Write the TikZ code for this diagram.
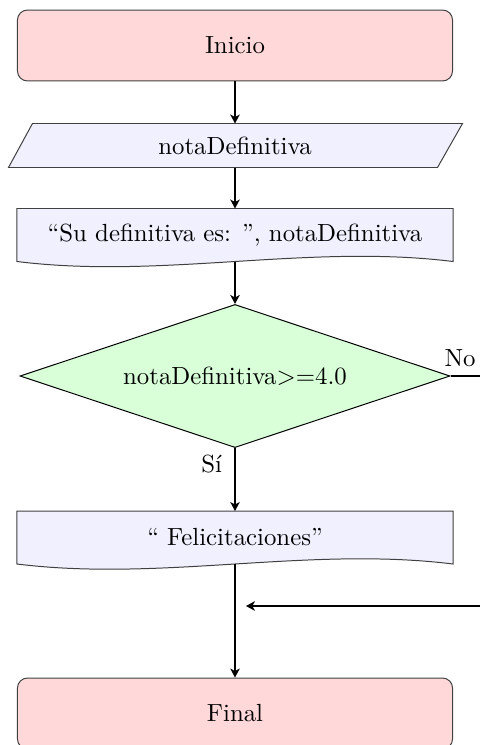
\documentclass[tikz,border=0pt]{standalone}
\usetikzlibrary{shapes.geometric,arrows.meta,calc,backgrounds}
\definecolor{startfill}{RGB}{255,217,217}
\definecolor{iofill}{RGB}{240,240,255}
\definecolor{decfill}{RGB}{217,255,217}
\begin{document}
\begin{tikzpicture}[x=0.4032pt,y=-0.4032pt,
  terminal/.style={rectangle, rounded corners=4pt, draw=black!75, fill=startfill, line width=0.4pt, minimum width=175.4pt, minimum height=28.6pt, inner sep=0pt},
  textbox/.style={rectangle, draw=none, inner sep=0pt},
  shapeline/.style={draw=black!75, fill=iofill, line width=0.4pt},
  decision/.style={diamond, aspect=3, draw=black, fill=decfill, line width=0.4pt, minimum width=173.4pt, minimum height=57.7pt, inner sep=0pt},
  flow/.style={line width=0.8pt, -{Stealth[length=3.6pt,width=3.8pt,inset=1pt]}},
]
\useasboundingbox (0,0) rectangle (480,745);
\clip (0,0) rectangle (480,745);

\node[terminal] (inicio) at (235,45.5) {Inicio};
\node[textbox, minimum width=162.9pt, minimum height=17.34pt] (para) at (235,145.5) {notaDefinitiva};
\node[textbox, minimum width=175.4pt, minimum height=20.97pt] (doc1) at (235,235) {“Su definitiva es: ”, notaDefinitiva};
\node[decision] (dec) at (235,376) {notaDefinitiva>=4.0};
\node[textbox, minimum width=175.4pt, minimum height=20.97pt] (doc2) at (235,537.5) {“ Felicitaciones”};
\node[terminal] (final) at (235,713.5) {Final};
\coordinate (join) at (235,606);

\begin{scope}[on background layer]
  \path[shapeline] (para.north west) -- ($(para.north east)+(25,0)$) -- (para.south east) -- ($(para.south west)+(-24,0)$) -- cycle;
  \path[shapeline] (doc1.south west) -- (doc1.north west) -- (doc1.north east) -- (doc1.south east)
    .. controls ($(doc1.south east)+(-145,-18)$) and ($(doc1.south west)+(145,18)$) .. (doc1.south west) -- cycle;
  \path[shapeline] (doc2.south west) -- (doc2.north west) -- (doc2.north east) -- (doc2.south east)
    .. controls ($(doc2.south east)+(-145,-18)$) and ($(doc2.south west)+(145,18)$) .. (doc2.south west) -- cycle;
\end{scope}

\draw[flow] (inicio) -- (para);
\draw[flow] (para) -- (doc1);
\draw[flow] (doc1) -- (dec);
\draw[flow] (dec) -- node[pos=0.25, anchor=east, inner sep=0pt, xshift=-4.8pt] {Sí} (doc2);
\draw[flow] (doc2) -- (final);
\draw[flow, shorten >=4.4pt] (dec.east) -- node[pos=0.12, above] {No} ++(80,0) |- (join);
\end{tikzpicture}
\end{document}
